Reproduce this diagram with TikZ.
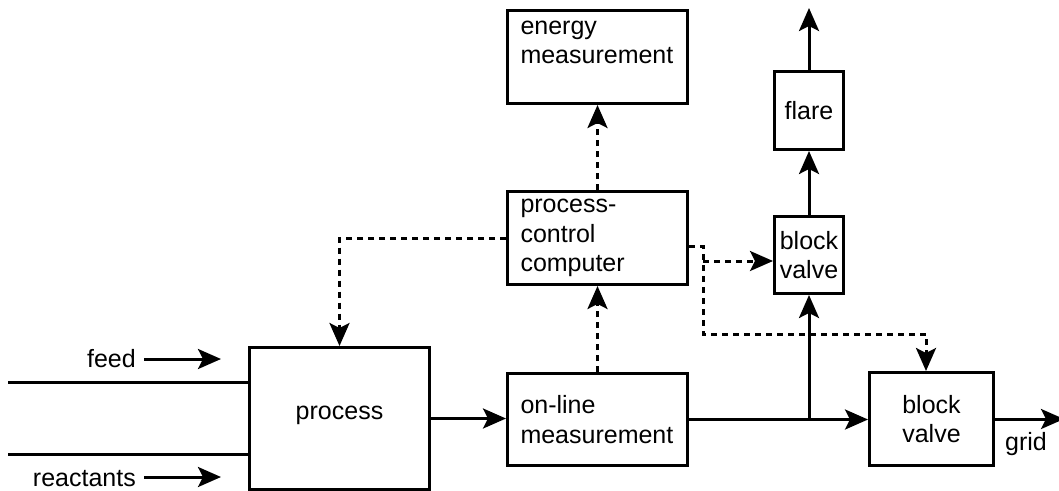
\documentclass[tikz,border=0pt]{standalone}
\usepackage{fontspec}
\setmainfont{Liberation Sans}
\usetikzlibrary{arrows.meta}
\begin{document}
\begin{tikzpicture}[x=1pt,y=-1pt,
  blk/.style={draw, line width=3pt, rectangle, inner ysep=1pt, font=\fontsize{25}{29.5}\selectfont, anchor=north west},
  lbox/.style={blk, align=left, text width=154pt, inner xsep=13pt, minimum width=180pt},
  cbox/.style={blk, align=center, inner xsep=0pt},
  lbl/.style={font=\fontsize{25}{29.5}\selectfont, inner sep=0pt},
  arrowtip/.style={-{Stealth[length=23pt 0 0,width=20pt 0,inset=5pt 0]}},
  flow/.style={line width=3pt, arrowtip},
  plainline/.style={line width=3pt},
  sig/.style={line width=3pt, dash pattern=on 6pt off 5pt, arrowtip}]
\useasboundingbox (0,0) rectangle (1059,490);

% boxes
\node[lbox, minimum height=93pt] (energy) at (506,9) {energy\\measurement\\\mbox{}};
\node[lbox, minimum height=93pt] (pcc) at (506,190) {process-\\control\\computer};
\node[lbox, minimum height=92pt] (online) at (506,372) {on-line\\measurement};
\node[cbox, minimum width=180pt, minimum height=142pt] (process) at (248,346) {process\\[-18pt]};
\node[cbox, minimum width=69pt, minimum height=78pt] (flare) at (773,70) {flare};
\node[cbox, minimum width=69pt, minimum height=77pt] (bv1) at (773,215) {block\\valve};
\node[cbox, minimum width=124pt, minimum height=93pt] (bv2) at (868,371) {block\\valve};

% labels
\node[lbl, anchor=base east] (feed) at (136,367) {feed};
\node[lbl, anchor=base east] (react) at (136,486) {reactants};
\node[lbl, anchor=base west] (grid) at (1005,450) {grid};

% coordinates
\coordinate (f1) at (144,359);
\coordinate (f2) at (221,359);
\coordinate (r1) at (144,477);
\coordinate (r2) at (221,477);
\coordinate (in1) at (8,382);
\coordinate (in2) at (8,454);
\coordinate (j1) at (703,246);
\coordinate (j2) at (926,334);
\coordinate (j3) at (703,261);
\coordinate (top) at (807.5,8);
\coordinate (out) at (1064,417.5);

% feed lines
\draw[flow] (f1) -- (f2);
\draw[flow] (r1) -- (r2);
\draw[plainline] (in1) -- (in1 -| process.west);
\draw[plainline] (in2) -- (in2 -| process.west);

% material flow
\draw[flow] (process.east) -- (process.east -| online.west);
\draw[flow] (online.east) -- (online.east -| bv2.west);
\draw[flow] (bv1.south |- online.east) -- (bv1.south);
\draw[flow] (bv1.north) -- (flare.south);
\draw[flow] (flare.north) -- (flare.north |- top);
\draw[flow] (bv2.east) -- (bv2.east -| out);

% signals
\draw[sig] (online.north) -- (pcc.south);
\draw[sig] (pcc.north) -- (energy.south);
\draw[sig] (pcc.west) -| (process.north);
\draw[sig] (pcc.east |- j1) -- (j1) |- (j2) -- (j2 |- bv2.north);
\draw[sig] (j3) -- (j3 -| bv1.west);
\end{tikzpicture}
\end{document}
